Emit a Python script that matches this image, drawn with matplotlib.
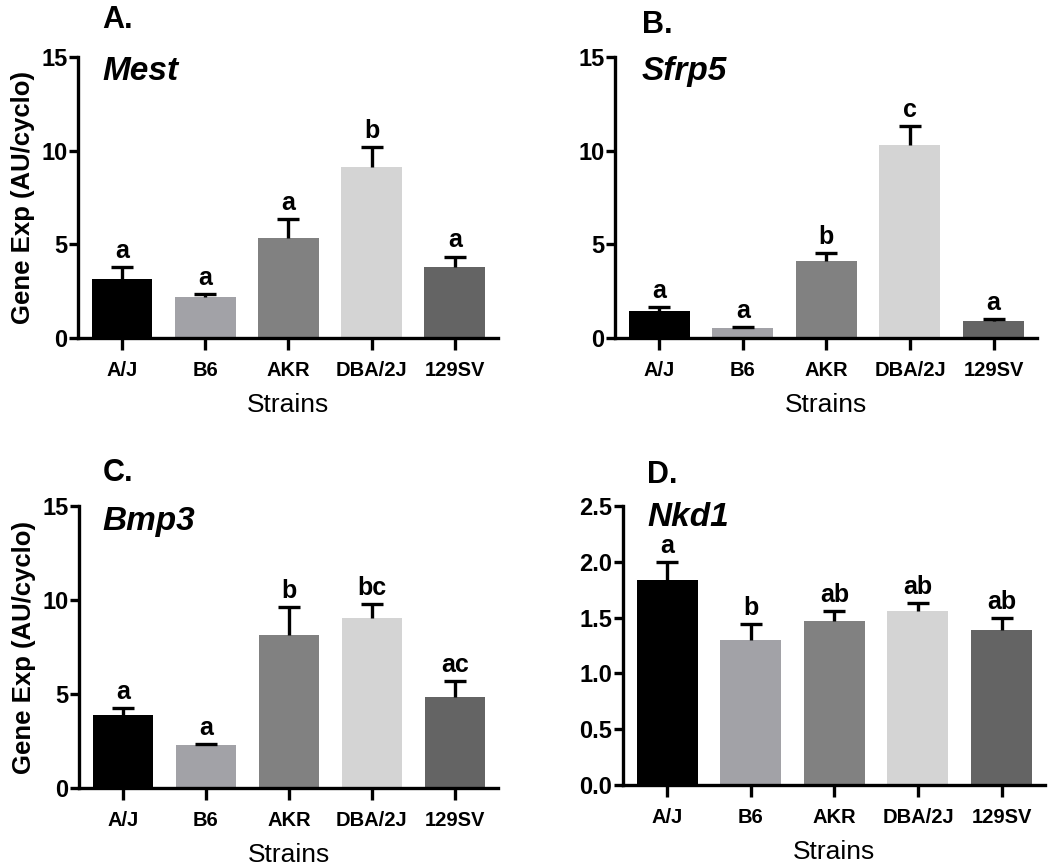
import matplotlib
matplotlib.use("Agg")
import matplotlib.pyplot as plt
import numpy as np

plt.rcParams['font.family'] = ['Liberation Sans', 'DejaVu Sans']

strains = ["A/J", "B6", "AKR", "DBA/2J", "129SV"]
bar_colors = ["#000000", "#a2a2a7", "#818181", "#d4d4d4", "#646464"]

# valores medios y error (solo hacia arriba)
mest_mean = [3.15, 2.17, 5.36, 9.15, 3.77]
mest_err = [0.62, 0.19, 0.98, 1.05, 0.58]
mest_sig = ["a", "a", "a", "b", "a"]

sfrp5_mean = [1.42, 0.55, 4.13, 10.32, 0.93]
sfrp5_err = [0.23, 0.05, 0.41, 0.98, 0.06]
sfrp5_sig = ["a", "a", "b", "c", "a"]

bmp3_mean = [3.87, 2.27, 8.14, 9.02, 4.85]
bmp3_err = [0.37, 0.05, 1.48, 0.75, 0.83]
bmp3_sig = ["a", "a", "b", "bc", "ac"]

nkd1_mean = [1.84, 1.30, 1.47, 1.56, 1.39]
nkd1_err = [0.16, 0.14, 0.09, 0.07, 0.11]
nkd1_sig = ["a", "b", "ab", "ab", "ab"]

W, H = 1050, 866
fig = plt.figure(figsize=(W / 100, H / 100), dpi=100)


def px_axes(left, right, top, bottom):
    # convierte coordenadas de pixel a fraccion de figura
    return [left / W, 1 - bottom / H, (right - left) / W, (bottom - top) / H]


def panel(rect, mean, err, sig, letter, gene, ylim, yticks, ytl, ylabel,
          letter_y, gene_y, text_x):
    ax = fig.add_axes(rect)
    x = np.arange(len(strains))
    top = np.array(mean) + np.array(err)
    ax.bar(x, mean, width=0.73, color=bar_colors, zorder=2)
    # barra de error solo hacia arriba, con tapa arriba
    ax.vlines(x, mean, top, color="black", lw=2.4, zorder=3)
    ax.plot(x, top, linestyle="none", marker="_", markersize=16.5,
            markeredgewidth=2.4, color="black", zorder=3)
    for xi, t, s in zip(x, top, sig):
        ax.annotate(s, (xi, t), xytext=(0, 6.5), textcoords="offset points",
                    ha="center", va="baseline", fontsize=18, fontweight="bold")
    ax.set_xlim(-0.53, 4.52)
    ax.set_ylim(*ylim)
    ax.set_xticks(x)
    ax.set_xticklabels(strains, fontsize=14.5, fontweight="bold")
    ax.set_yticks(yticks)
    ax.set_yticklabels(ytl, fontsize=17, fontweight="bold")
    for side in ["top", "right"]:
        ax.spines[side].set_visible(False)
    for side in ["left", "bottom"]:
        ax.spines[side].set_linewidth(2.4)
    ax.tick_params(axis="y", length=6.7, width=2.4, pad=1)
    ax.tick_params(axis="x", length=8.6, width=2.4, pad=8)
    ax.set_xlabel("Strains", fontsize=19, labelpad=9)
    if ylabel:
        ax.set_ylabel("Gene Exp (AU/cyclo)", fontsize=18.5, fontweight="bold", labelpad=4)
    ax.text(text_x, letter_y, letter, transform=ax.transAxes, fontsize=22,
            fontweight="bold", va="baseline", ha="left")
    ax.text(text_x, gene_y, gene, transform=ax.transAxes, fontsize=24,
            fontweight="bold", fontstyle="italic", va="baseline", ha="left")
    return ax


ticks15 = [0, 5, 10, 15]
tl15 = ["0", "5", "10", "15"]
panel(px_axes(78, 498, 57, 338), mest_mean, mest_err, mest_sig, "A.", "Mest",
      (0, 15), ticks15, tl15, True, 1.103, 0.918, 0.057)
panel(px_axes(615, 1037, 57, 338), sfrp5_mean, sfrp5_err, sfrp5_sig, "B.", "Sfrp5",
      (0, 15), ticks15, tl15, False, 1.085, 0.918, 0.064)
panel(px_axes(79, 498, 506, 788), bmp3_mean, bmp3_err, bmp3_sig, "C.", "Bmp3",
      (0, 15), ticks15, tl15, True, 1.089, 0.915, 0.057)
panel(px_axes(623, 1045, 506, 785), nkd1_mean, nkd1_err, nkd1_sig, "D.", "Nkd1",
      (0, 2.5), [0, 0.5, 1.0, 1.5, 2.0, 2.5],
      ["0.0", "0.5", "1.0", "1.5", "2.0", "2.5"], False, 1.082, 0.928, 0.057)

fig.savefig("out.png", dpi=100)
